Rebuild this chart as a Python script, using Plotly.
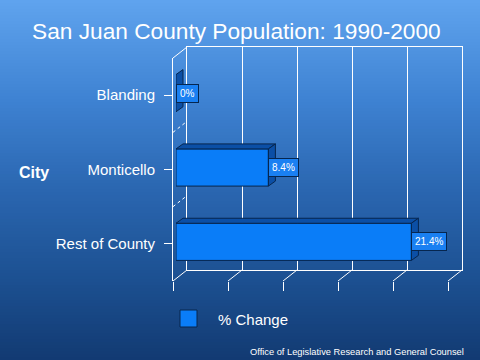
import plotly.graph_objects as go

# ---- data ----
categories = ["Blanding", "Monticello", "Rest of County"]
pct_change = [0, 8.4, 21.4]
series_name = "% Change"
title_text = "San Juan County Population: 1990-2000"
axis_title = "City"
footer_text = "Office of Legislative Research and General Counsel"
x_ticks = [0, 5, 10, 15, 20, 25]

W, H = 480, 360
FONT = "Liberation Sans, Arial, sans-serif"
FACE = "#0a7df8"
SIDE = "#0b4fa6"
EDGE = "#06264f"


def px(x):
    return x / W


def py(y):
    return 1 - y / H


# geometry (pixels)
FX0, FX1, FY0, FY1 = 173, 448, 58, 281        # front plane
DX, DY = 14, -11                                # wall depth
BX0, BX1, BY0, BY1 = FX0 + DX, FX1 + DX, FY0 + DY, FY1 + DY
XMAX = 25
ppu = (FX1 - FX0) / XMAX

fig = go.Figure()

# empty traces so the wall and front-plane axes are drawn
fig.add_trace(go.Scatter(x=[], y=[], xaxis="x", yaxis="y", showlegend=False))
fig.add_trace(go.Scatter(x=[], y=[], xaxis="x2", yaxis="y2", showlegend=False))

# bar positions
pos = list(range(len(categories)))
bw = 0.5
ddx = 7 / ppu
ddy = 5 / ((FY1 - FY0) / len(categories))

fig.add_trace(go.Bar(
    x=pct_change, y=pos, orientation="h", width=bw,
    marker=dict(color=FACE, line=dict(color=EDGE, width=1)),
    xaxis="x3", yaxis="y3", showlegend=False, hoverinfo="skip",
))
for v, c in zip(pct_change, pos):
    top, bot = c - bw / 2, c + bw / 2
    if v > 0:
        fig.add_trace(go.Scatter(
            x=[0, v, v + ddx, ddx, 0], y=[top, top, top - ddy, top - ddy, top],
            fill="toself", fillcolor=SIDE, mode="lines",
            line=dict(color=EDGE, width=1), xaxis="x3", yaxis="y3",
            showlegend=False, hoverinfo="skip"))
    fig.add_trace(go.Scatter(
        x=[v, v, v + ddx, v + ddx, v], y=[top, bot, bot - ddy, top - ddy, top],
        fill="toself", fillcolor=SIDE, mode="lines",
        line=dict(color=EDGE, width=1), xaxis="x3", yaxis="y3",
        showlegend=False, hoverinfo="skip"))

shapes = []
# gradient background
stops = [(0, (95, 163, 238)), (100, (62, 130, 210)), (190, (42, 102, 176)),
         (280, (28, 80, 145)), (360, (18, 58, 114))]


def col(y):
    for (y0, c0), (y1, c1) in zip(stops[:-1], stops[1:]):
        if y0 <= y <= y1:
            t = (y - y0) / (y1 - y0)
            return "rgb(%d,%d,%d)" % tuple(round(a + (b - a) * t) for a, b in zip(c0, c1))
    return "rgb(%d,%d,%d)" % stops[-1][1]


step = 3
for y in range(0, H, step):
    shapes.append(dict(type="rect", xref="paper", yref="paper", layer="below",
                       x0=0, x1=1, y0=py(y + step), y1=py(y),
                       line=dict(width=0), fillcolor=col(y + step / 2)))

# floor connectors
for t in x_ticks:
    fx = FX0 + t * ppu
    shapes.append(dict(type="line", xref="paper", yref="paper", layer="below",
                       x0=px(fx), y0=py(FY1), x1=px(fx + DX), y1=py(FY1 + DY),
                       line=dict(color="white", width=1)))
# top-left connector
shapes.append(dict(type="line", xref="paper", yref="paper", layer="below",
                   x0=px(FX0), y0=py(FY0), x1=px(BX0), y1=py(BY0),
                   line=dict(color="white", width=1)))
# dotted category boundaries on left wall
cat_h = (FY1 - FY0) / len(categories)
for k in range(1, len(categories)):
    yb = FY0 + k * cat_h
    shapes.append(dict(type="line", xref="paper", yref="paper", layer="below",
                       x0=px(FX0), y0=py(yb), x1=px(BX0), y1=py(yb + DY),
                       line=dict(color="white", width=1, dash="dot")))
# legend key
shapes.append(dict(type="rect", xref="paper", yref="paper",
                   x0=px(180), x1=px(197), y0=py(327), y1=py(310),
                   fillcolor=FACE, line=dict(color=EDGE, width=1)))

annotations = [
    dict(text=title_text, xref="paper", yref="paper", x=px(236), y=py(31),
         xanchor="center", yanchor="middle",
         showarrow=False, font=dict(family=FONT, size=22.7, color="white")),
    dict(text="<b>" + axis_title + "</b>", xref="paper", yref="paper", x=px(34), y=py(172),
         xanchor="center", yanchor="middle",
         showarrow=False, font=dict(family=FONT, size=16, color="white")),
    dict(text=series_name, xref="paper", yref="paper", x=px(216), y=py(319),
         xanchor="left", yanchor="middle",
         showarrow=False, font=dict(family=FONT, size=15, color="white")),
    dict(text=footer_text, xref="paper", yref="paper", x=px(466), y=py(352),
         xanchor="right", yanchor="middle",
         showarrow=False, font=dict(family=FONT, size=9.3, color="white")),
]
for v, c in zip(pct_change, pos):
    annotations.append(dict(
        text=f"{v:g}%", xref="x3", yref="y3", x=v, y=c, xanchor="left", yanchor="middle",
        showarrow=False, bgcolor="#1a80f2", bordercolor=EDGE, borderwidth=1, borderpad=3,
        font=dict(family=FONT, size=10, color="white")))

fig.update_layout(
    width=W, height=H, margin=dict(l=0, r=0, t=0, b=0, autoexpand=False),
    paper_bgcolor="rgb(40,100,175)", plot_bgcolor="rgba(0,0,0,0)",
    showlegend=False, shapes=shapes, annotations=annotations,
    xaxis=dict(domain=[px(BX0), px(BX1)], range=[0, XMAX], anchor="y",
               tickvals=x_ticks, showticklabels=False, ticks="",
               showgrid=True, gridcolor="white", gridwidth=1, zeroline=False,
               showline=True, mirror=True, linecolor="white", linewidth=1),
    yaxis=dict(domain=[py(BY1), py(BY0)], range=[0, 1], anchor="x",
               showticklabels=False, ticks="", showgrid=False, zeroline=False,
               showline=True, mirror=True, linecolor="white", linewidth=1),
    xaxis2=dict(domain=[px(FX0), px(FX1)], range=[0, XMAX], anchor="y2",
                tickvals=x_ticks, showticklabels=False, ticks="outside", ticklen=9,
                tickcolor="white", tickwidth=1, showgrid=False, zeroline=False,
                showline=False),
    yaxis2=dict(domain=[py(FY1), py(FY0)], range=[len(categories) - 0.5, -0.5],
                anchor="x2", tickvals=pos, ticktext=categories, ticks="outside",
                ticklen=8, tickcolor="white", tickwidth=1, showgrid=False,
                zeroline=False, showline=True, linecolor="white", linewidth=1,
                ticklabelstandoff=6,
                tickfont=dict(family=FONT, size=15, color="white")),
    xaxis3=dict(domain=[px(FX0 + 3), px(FX1 + 3)], range=[0, XMAX], anchor="y3",
                visible=False),
    yaxis3=dict(domain=[py(FY1 - 2), py(FY0 - 2)], range=[len(categories) - 0.5, -0.5],
                anchor="x3", visible=False),
)

fig.write_html("out.html", config={"displayModeBar": False},
               post_script="document.body.style.margin='0';document.body.style.overflow='hidden';")
